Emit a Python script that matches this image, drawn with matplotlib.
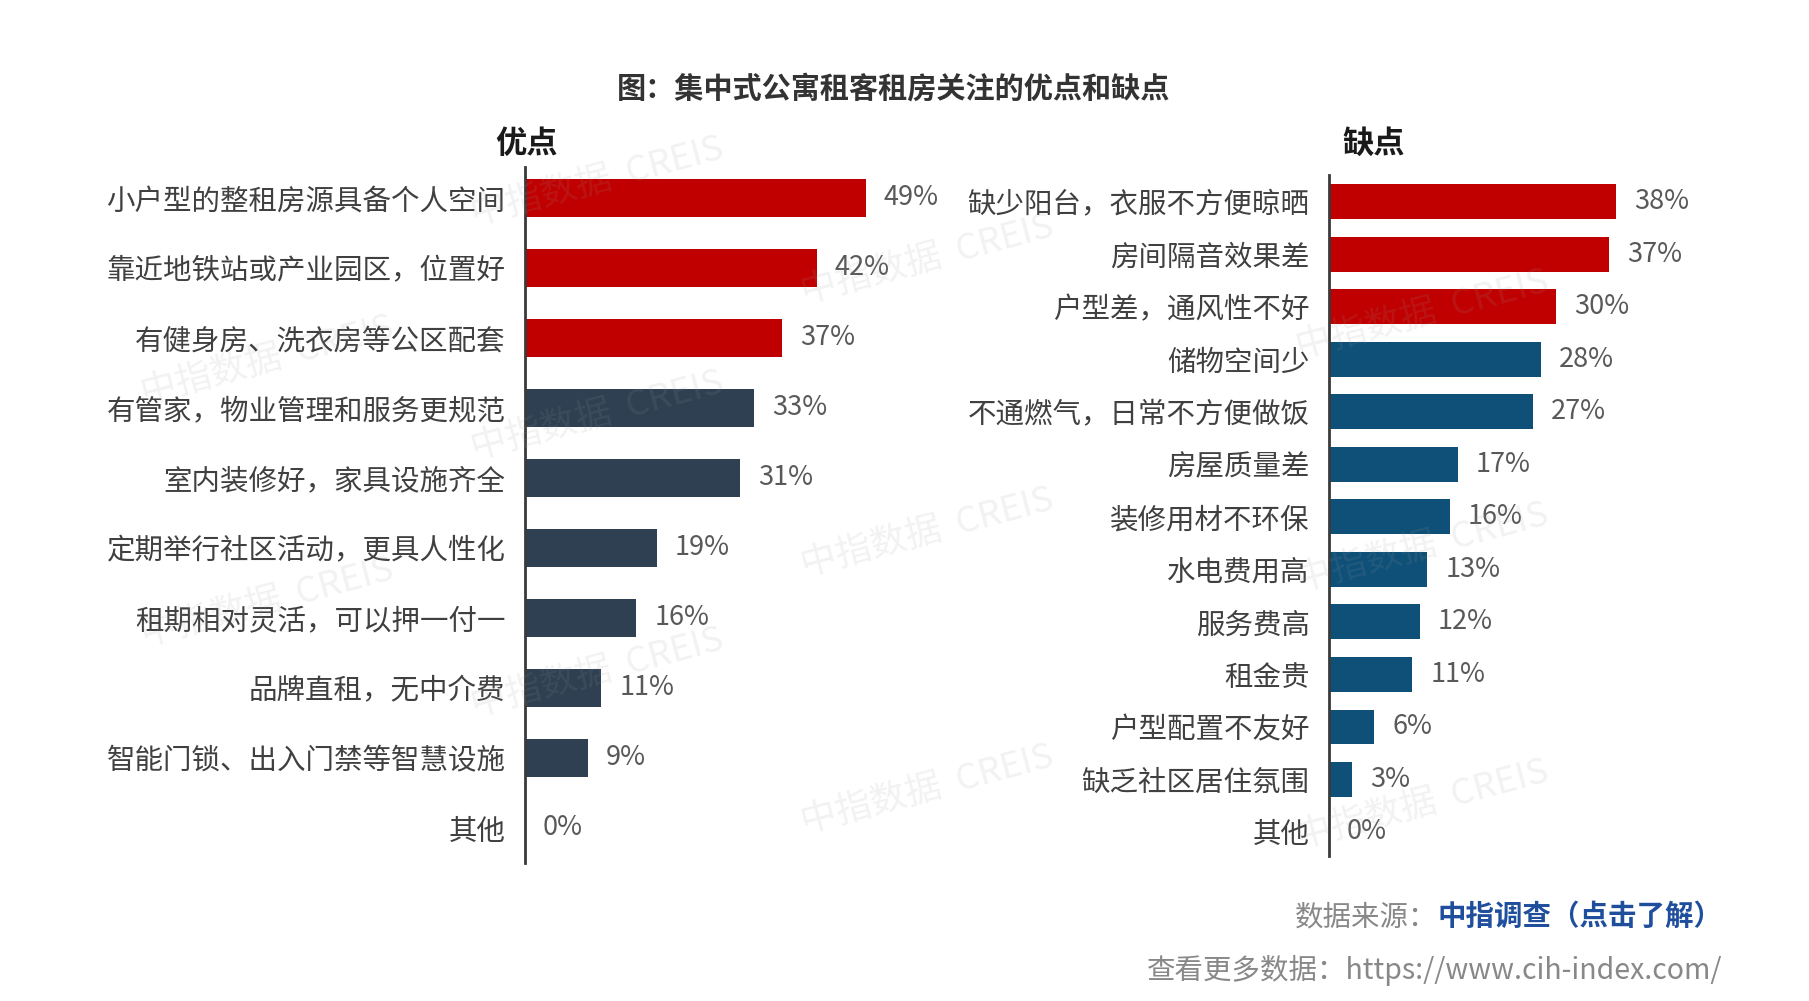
import matplotlib
matplotlib.use("Agg")
from matplotlib import pyplot as plt

plt.rcParams['font.family'] = ['Noto Sans CJK SC', 'DejaVu Sans']

# data
pros_labels = ['小户型的整租房源具备个人空间', '靠近地铁站或产业园区，位置好', '有健身房、洗衣房等公区配套',
               '有管家，物业管理和服务更规范', '室内装修好，家具设施齐全', '定期举行社区活动，更具人性化',
               '租期相对灵活，可以押一付一', '品牌直租，无中介费', '智能门锁、出入门禁等智慧设施', '其他']
pros_values = [49, 42, 37, 33, 31, 19, 16, 11, 9, 0]
pros_top = 3  # first n bars in red

cons_labels = ['缺少阳台，衣服不方便晾晒', '房间隔音效果差', '户型差，通风性不好', '储物空间少',
               '不通燃气，日常不方便做饭', '房屋质量差', '装修用材不环保', '水电费用高', '服务费高',
               '租金贵', '户型配置不友好', '缺乏社区居住氛围', '其他']
cons_values = [38, 37, 30, 28, 27, 17, 16, 13, 12, 11, 6, 3, 0]
cons_top = 3

RED = '#C00000'
DARK = '#2E4052'
BLUE = '#0F5078'
LABEL_C = '#404040'
VALUE_C = '#595959'

W, H = 1809, 1001
fig = plt.figure(figsize=(W / 100, H / 100), dpi=100)


def px_axes(left, top, right, bottom):
    return fig.add_axes([left / W, 1 - bottom / H, (right - left) / W, (bottom - top) / H])


def draw(ax, labels, values, ntop, other_color, height, xmax, ylim):
    n = len(values)
    colors = [RED if i < ntop else other_color for i in range(n)]
    ax.barh(range(n), values, height=height, color=colors, zorder=2)
    ax.set_xlim(0, xmax)
    ax.set_ylim(*ylim)
    for s in ['top', 'right', 'bottom']:
        ax.spines[s].set_visible(False)
    ax.spines['left'].set_color('#3a3a3a')
    ax.spines['left'].set_linewidth(2)
    ax.set_xticks([])
    ax.set_yticks(range(n))
    ax.set_yticklabels(labels, fontsize=20.5, color=LABEL_C)
    ax.tick_params(axis='y', length=0, pad=14)
    for i, v in enumerate(values):
        ax.annotate(f'{v}%', xy=(v, i), xytext=(13, 0), textcoords='offset points',
                    ha='left', va='center', fontsize=19.5, color=VALUE_C)


ax1 = px_axes(525, 167, 942, 863)
draw(ax1, pros_labels, pros_values, pros_top, DARK, 0.55, 60, (9.5, -0.44))

ax2 = px_axes(1329, 175, 1707, 856)
draw(ax2, cons_labels, cons_values, cons_top, BLUE, 0.66, 50, (12.46, -0.51))

fig.text(894 / W, 1 - 89 / H, '图：集中式公寓租客租房关注的优点和缺点', ha='center', va='center',
         fontsize=21, fontweight='bold', color='#333333')
fig.text(526 / W, 1 - 144 / H, '优点', ha='center', va='center', fontsize=22.5,
         fontweight='bold', color='#1a1a1a')
fig.text(1374 / W, 1 - 144 / H, '缺点', ha='center', va='center', fontsize=22.5,
         fontweight='bold', color='#1a1a1a')

# source lines
src = fig.text(1722 / W, 1 - 917 / H, '中指调查（点击了解）', ha='right', va='center',
               fontsize=20.5, fontweight='bold', color='#1F4E9C')
plt.annotate('数据来源：', xy=(0, 0.5), xycoords=src, ha='right', va='center',
             fontsize=20.5, color='#888888')
fig.text(1722 / W, 1 - 970 / H, '查看更多数据：https://www.cih-index.com/', ha='right', va='center',
         fontsize=20.5, color='#888888')

# faint watermark overlay
wm = px_axes(69, 104, 1719, 883)
wm.set_xlim(0, 1)
wm.set_ylim(1, 0)
wm.axis('off')
wm.patch.set_alpha(0)
wm.set_zorder(5)
marks = [(0.32, 0.10), (0.52, 0.20), (0.82, 0.27), (0.12, 0.33), (0.32, 0.40),
         (0.52, 0.55), (0.82, 0.57), (0.12, 0.64), (0.32, 0.73), (0.52, 0.88), (0.82, 0.90)]
for x, y in marks:
    wm.text(x, y, '中指数据  CREIS', fontsize=26, color='#9a9a9a', alpha=0.13, rotation=15,
            ha='center', va='center', clip_on=True)

fig.savefig('out.png', dpi=100)
